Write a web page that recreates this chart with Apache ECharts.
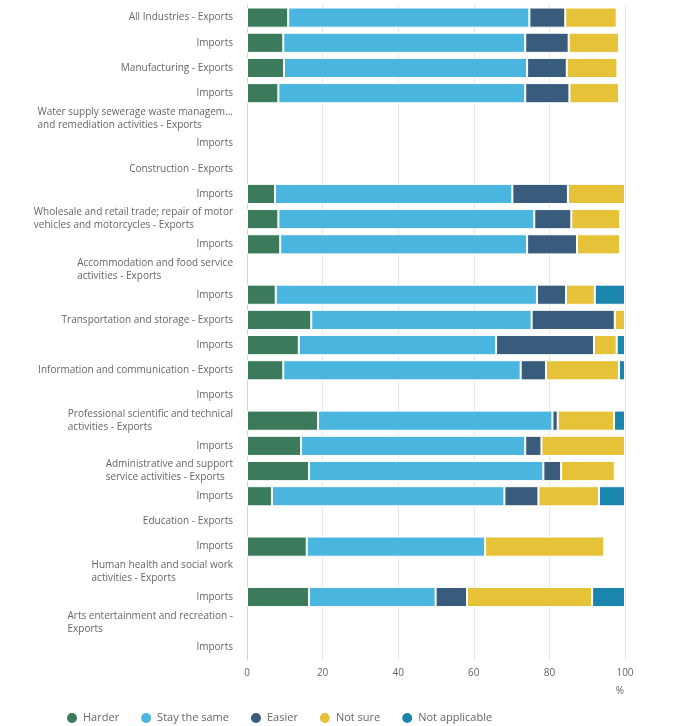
<!DOCTYPE html>
<html>
<head>
<meta charset="utf-8">
<script src="https://cdn.jsdelivr.net/npm/echarts@6/dist/echarts.min.js"></script>
<style>
  html, body { margin: 0; padding: 0; background: #fff; }
  #chart { width: 683px; height: 726px; }
</style>
</head>
<body>
<div id="chart"></div>
<script>
var categories = [
    'All Industries - Exports', 'Imports',
    'Manufacturing - Exports', 'Imports',
    'Water supply sewerage waste managem...\nand remediation activities - Exports', 'Imports',
    'Construction - Exports', 'Imports',
    'Wholesale and retail trade; repair of motor\nvehicles and motorcycles - Exports', 'Imports',
    'Accommodation and food service\nactivities - Exports', 'Imports',
    'Transportation and storage - Exports', 'Imports',
    'Information and communication - Exports', 'Imports',
    'Professional scientific and technical\nactivities - Exports', 'Imports',
    'Administrative and support\nservice activities - Exports', 'Imports',
    'Education - Exports', 'Imports',
    'Human health and social work\nactivities - Exports', 'Imports',
    'Arts entertainment and recreation -\nExports', 'Imports'
]

var harder = [10.9, 9.6, 9.8, 8.3, null, null, null, 7.4, 8.3, 8.8, null, 7.6, 17.0, 13.7, 9.6, null, 18.8, 14.3, 16.4, 6.6, null, 15.8, null, 16.4, null, null]
var staySame = [63.8, 64.0, 64.3, 65.3, null, null, null, 62.8, 67.7, 65.3, null, 69.1, 58.3, 52.2, 62.8, null, 62.0, 59.3, 62.0, 61.5, null, 47.2, null, 33.5, null, null]
var easier = [9.5, 11.5, 10.5, 11.7, null, null, null, 14.7, 9.8, 13.2, null, 7.7, 22.0, 25.9, 6.7, null, 1.4, 4.3, 4.7, 9.0, null, null, null, 8.3, null, null]
var notSure = [13.6, 13.3, 13.4, 13.1, null, null, null, 15.1, 12.9, 11.4, null, 7.6, 2.7, 6.0, 19.3, null, 14.9, 22.1, 14.2, 16.0, null, 31.5, null, 33.1, null, null]
var notApplicable = [null, null, null, null, null, null, null, null, null, null, null, 8.0, null, 2.2, 1.6, null, 2.9, null, null, 6.9, null, null, null, 8.7, null, null]

var seriesNames = ['Harder', 'Stay the same', 'Easier', 'Not sure', 'Not applicable']
var seriesData = [harder, staySame, easier, notSure, notApplicable]
var colors = ['#3b7a5a', '#4ab5de', '#3a5c7c', '#e5c238', '#1a86ae']

var xTicks = { min: 0, max: 100, interval: 20 }

var chart = echarts.init(document.getElementById('chart'))

var series = []
for (var i = 0; i < seriesNames.length; i++) {
    series.push({
        name: seriesNames[i],
        type: 'bar',
        stack: 'total',
        barCategoryGap: '20%',
        itemStyle: { color: colors[i], borderColor: '#fff', borderWidth: 1 },
        emphasis: { disabled: true },
        data: seriesData[i]
    })
}

var option = {
    animation: false,
    textStyle: { fontFamily: 'Open Sans' },
    color: colors,
    grid: { left: 247, right: 58, top: 5, bottom: 66, containLabel: false },
    legend: {
        data: seriesNames,
        left: 60,
        top: 706,
        icon: 'circle',
        itemWidth: 12,
        itemHeight: 12,
        itemGap: 20,
        textStyle: { color: '#666', fontSize: 11, fontFamily: 'Open Sans' }
    },
    xAxis: {
        type: 'value',
        min: xTicks.min,
        max: xTicks.max,
        interval: xTicks.interval,
        name: '%',
        nameLocation: 'end',
        nameGap: -1,
        nameTextStyle: { color: '#666', fontSize: 10, align: 'right', verticalAlign: 'top', padding: [26, 0, 0, 0] },
        axisLine: { show: false },
        axisTick: { show: false },
        axisLabel: { color: '#666', fontSize: 10, margin: 8 },
        splitLine: { lineStyle: { color: '#e6e6e6' } }
    },
    yAxis: {
        type: 'category',
        inverse: true,
        data: categories,
        axisLine: { lineStyle: { color: '#ccd6eb' } },
        axisTick: { length: 9, lineStyle: { color: '#ccd6eb' } },
        axisLabel: {
            color: '#666',
            fontSize: 10,
            margin: 14,
            interval: 0,
            lineHeight: 13,
            formatter: function (v) {
                return v.split('\n').map(function (s) { return '{l|' + s + '}' }).join('\n')
            },
            rich: {
                l: { align: 'left', color: '#666', fontSize: 10, lineHeight: 13, fontFamily: 'Open Sans' }
            }
        }
    },
    series: series
}

chart.setOption(option)
</script>
</body>
</html>
